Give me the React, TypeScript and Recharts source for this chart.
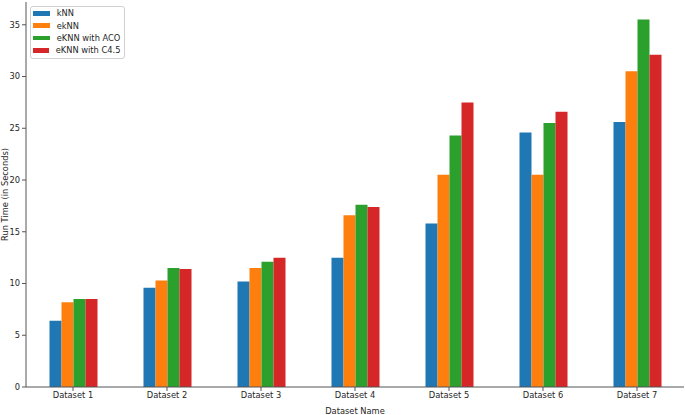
import React from 'react';
import { BarChart, Bar, XAxis, YAxis, Legend } from 'recharts';

const categories = ['Dataset 1', 'Dataset 2', 'Dataset 3', 'Dataset 4', 'Dataset 5', 'Dataset 6', 'Dataset 7'];
const knn = [6.4, 9.6, 10.2, 12.5, 15.8, 24.6, 25.6];
const eknn = [8.2, 10.3, 11.5, 16.6, 20.5, 20.5, 30.5];
const ekknAco = [8.5, 11.5, 12.1, 17.6, 24.3, 25.5, 35.5];
const eknnC45 = [8.5, 11.4, 12.5, 17.4, 27.5, 26.6, 32.1];
const yTicks = [0, 5, 10, 15, 20, 25, 30, 35];

const series = [
  { key: 'knn', name: 'kNN', color: '#1f77b4' },
  { key: 'eknn', name: 'ekNN', color: '#ff7f0e' },
  { key: 'aco', name: 'eKNN with ACO', color: '#2ca02c' },
  { key: 'c45', name: 'eKNN with C4.5', color: '#d62728' },
];

const data = categories.map((name, i) => ({
  name,
  knn: knn[i],
  eknn: eknn[i],
  aco: ekknAco[i],
  c45: eknnC45[i],
}));

const font = '"DejaVu Sans", sans-serif';
const textColor = '#262626';

const ChartLegend = () => (
  <div
    style={{
      border: '1px solid #d0d0d0',
      borderRadius: 3,
      background: 'rgba(255,255,255,0.8)',
      padding: '0px 3px 1px 1.5px',
      width: 88,
      fontFamily: font,
      fontSize: 8.3,
      color: textColor,
    }}
  >
    {series.map((s) => (
      <div key={s.key} style={{ display: 'flex', alignItems: 'center', height: 12.4, whiteSpace: 'nowrap' }}>
        <span style={{ display: 'inline-block', width: 17.7, height: 4.8, background: s.color, marginRight: 6.5 }} />
        <span>{s.name}</span>
      </div>
    ))}
  </div>
);

export default function App() {
  return (
    <div style={{ position: 'absolute', left: 0, top: 0, background: '#fff' }}>
      <BarChart
        width={685}
        height={415}
        data={data}
        margin={{ top: 2, right: 1, left: 0, bottom: 0 }}
        barCategoryGap="25%"
        barGap={0}
      >
        <XAxis
          dataKey="name"
          height={28}
          tick={{ fontSize: 8.3, fill: textColor, fontFamily: font }}
          tickSize={4}
          tickMargin={1}
          stroke="#555"
          tickLine={{ stroke: '#555' }}
          label={{ value: 'Dataset Name', position: 'insideBottom', offset: 1, fontSize: 8.3, fill: textColor, fontFamily: font }}
        />
        <XAxis xAxisId="top" dataKey="name" orientation="top" height={0} tick={false} tickLine={false} stroke="#aaa" />
        <YAxis
          width={26}
          domain={[0, 37.2]}
          ticks={yTicks}
          tick={{ fontSize: 8.3, fill: textColor, fontFamily: font }}
          tickSize={4}
          tickMargin={2}
          stroke="#555"
          label={{ value: 'Run Time (in Seconds)', angle: -90, position: 'center', dx: -8, fontSize: 8.3, fill: textColor, fontFamily: font }}
        />
        <YAxis yAxisId="right" orientation="right" width={0} tick={false} tickLine={false} stroke="#aaa" domain={[0, 37.2]} />
        <Legend
          layout="vertical"
          align="center"
          verticalAlign="middle"
          wrapperStyle={{ position: 'absolute', left: 30, top: 6, width: 'auto', height: 'auto' }}
          content={() => <ChartLegend />}
        />
        {series.map((s) => (
          <Bar key={s.key} dataKey={s.key} name={s.name} fill={s.color} isAnimationActive={false} />
        ))}
      </BarChart>
    </div>
  );
}
